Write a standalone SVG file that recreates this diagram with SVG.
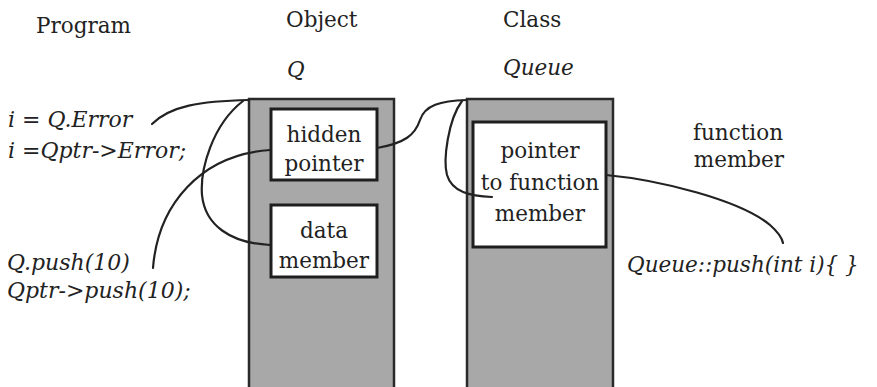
<svg xmlns="http://www.w3.org/2000/svg" width="877" height="387" viewBox="0 0 877 387">
  <style>
    text { font-family: 'DejaVu Serif', 'Liberation Serif', 'Noto Serif', serif; font-size: 21.5px; fill: #222; }
    .it { font-style: italic; }
    .code { font-size: 22px; }
    .mid { text-anchor: middle; }
    .column { fill: #a8a8a8; stroke: #2a2a2a; stroke-width: 2.5; }
    .box { fill: #fff; stroke: #1e1e1e; stroke-width: 3; }
    .link { fill: none; stroke: #222; stroke-width: 2.2; stroke-linecap: round; }
  </style>
  <rect width="877" height="387" fill="#fff"/>

  <!-- column headings -->
  <g id="headings">
    <text x="36" y="33">Program</text>
    <text x="286" y="27">Object</text>
    <text class="it" x="287" y="77">Q</text>
    <text x="503" y="27">Class</text>
    <text class="it" x="503" y="75">Queue</text>
  </g>

  <!-- object Q -->
  <g id="object-q">
    <rect class="column" x="249" y="99" width="145" height="300"/>
  </g>
  <g id="hidden-pointer">
    <rect class="box" x="271" y="109" width="106" height="71"/>
    <text class="mid" x="324" y="142">hidden</text>
    <text class="mid" x="324" y="171">pointer</text>
  </g>
  <g id="data-member">
    <rect class="box" x="271" y="205" width="106" height="72"/>
    <text class="mid" x="324" y="238">data</text>
    <text class="mid" x="324" y="268">member</text>
  </g>

  <!-- class Queue -->
  <g id="class-queue">
    <rect class="column" x="467" y="99" width="146" height="300"/>
  </g>
  <g id="pointer-to-function">
    <rect class="box" x="473" y="122" width="133" height="125"/>
    <text class="mid" x="540" y="158">pointer</text>
    <text class="mid" x="540" y="190">to function</text>
    <text class="mid" x="540" y="221">member</text>
  </g>

  <!-- program statements -->
  <g id="program-access">
    <text class="it code" x="8" y="127">i = Q.Error</text>
    <text class="it code" x="8" y="158">i =Qptr-&gt;Error;</text>
  </g>
  <g id="program-call">
    <text class="it code" x="7" y="270">Q.push(10)</text>
    <text class="it code" x="7" y="298">Qptr-&gt;push(10);</text>
  </g>

  <!-- function member -->
  <g id="function-member">
    <text class="mid" x="738" y="140">function</text>
    <text class="mid" x="739" y="167">member</text>
    <text class="it" x="627" y="272">Queue::push(int i){ }</text>
  </g>

  <!-- connectors -->
  <g id="connectors">
    <path class="link" d="M152,124 C170,106 200,101 249,100"/>
    <path class="link" d="M243,101 C212,125 200,170 202,195 C205,225 230,243 270,245"/>
    <path class="link" d="M153,268 C158,205 200,155 270,150"/>
    <path class="link" d="M377,148 C405,143 415,135 420,120 C425,105 440,101 467,100"/>
    <path class="link" d="M462,101 C448,120 443,160 447,175 C452,192 470,196 492,197"/>
    <path class="link" d="M606,175 C660,180 740,200 770,225 C778,232 782,238 783,243"/>
  </g>
</svg>
